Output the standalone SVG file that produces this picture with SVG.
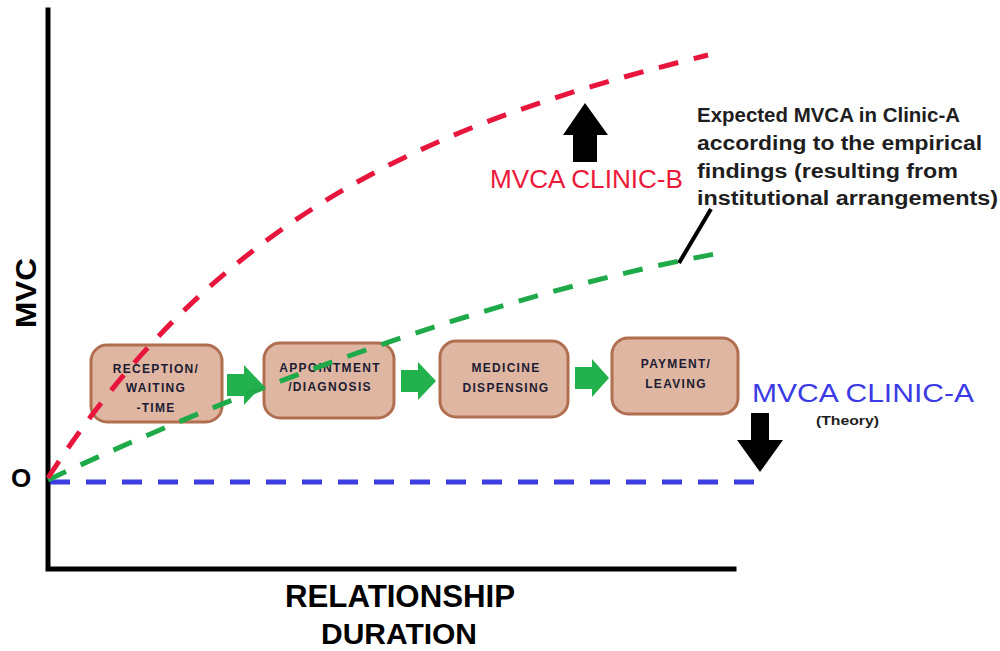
<svg xmlns="http://www.w3.org/2000/svg" width="1000" height="651" viewBox="0 0 1000 651">
  <defs>
    <style>
      .axis { stroke: #000; stroke-width: 5; fill: none; stroke-linecap: square; }
      .step rect { fill: #dfb6a1; stroke: #b06f50; stroke-width: 3; }
      .step text { font-family: "Liberation Sans", Arial, sans-serif; font-weight: bold; font-size: 12px; fill: #1c1c34; text-anchor: middle; letter-spacing: 1.3px; }
      .flow { fill: #22b14c; }
      .curve { fill: none; stroke-width: 5; }
      .lbl { font-family: "Liberation Sans", Arial, sans-serif; font-weight: bold; fill: #000; }
      .note { font-family: "Liberation Sans", Arial, sans-serif; font-weight: bold; font-size: 20px; fill: #1e1e1e; }
    </style>
  </defs>
  <rect width="1000" height="651" fill="#fff"/>

  <!-- axes -->
  <g id="axes">
    <polyline class="axis" points="48,10 48,569 734,569"/>
    <text class="lbl" x="400" y="607" font-size="32" text-anchor="middle" textLength="230" lengthAdjust="spacingAndGlyphs">RELATIONSHIP</text>
    <text class="lbl" x="399" y="644" font-size="29" text-anchor="middle" textLength="156" lengthAdjust="spacingAndGlyphs">DURATION</text>
    <text class="lbl" transform="translate(36,293) rotate(-90)" font-size="30" text-anchor="middle" textLength="70" lengthAdjust="spacingAndGlyphs">MVC</text>
    <text class="lbl" x="21" y="487" font-size="26" text-anchor="middle">O</text>
  </g>

  <!-- process steps -->
  <g id="step-reception" class="step">
    <rect x="91" y="345" width="131" height="77" rx="16"/>
    <text x="156" y="373">RECEPTION/</text>
    <text x="156" y="392">WAITING</text>
    <text x="156" y="412">-TIME</text>
  </g>
  <g id="step-appointment" class="step">
    <rect x="264" y="343" width="130" height="75" rx="16"/>
    <text x="330" y="372">APPOINTMENT</text>
    <text x="330" y="391">/DIAGNOSIS</text>
  </g>
  <g id="step-medicine" class="step">
    <rect x="440" y="341" width="128" height="76" rx="16"/>
    <text x="506" y="372">MEDICINE</text>
    <text x="506" y="392">DISPENSING</text>
  </g>
  <g id="step-payment" class="step">
    <rect x="612" y="338" width="126" height="76" rx="16"/>
    <text x="676" y="368">PAYMENT/</text>
    <text x="676" y="388">LEAVING</text>
  </g>

  <!-- connectors: step flow arrows and value curves -->
  <g id="connectors">
    <polygon class="flow" points="227,374 244,374 244,365 263,385 244,405 244,396 227,396"/>
    <polygon class="flow" points="401,370 418,370 418,362 436,381 418,400 418,392 401,392"/>
    <polygon class="flow" points="575,367 592,367 592,359 609,378 592,397 592,389 575,389"/>

    <path id="curve-a-theory" class="curve" stroke="#3c3ce0" stroke-dasharray="20 16" d="M50,482 L756,482"/>
    <path id="curve-a-expected" class="curve" stroke="#1faa4a" stroke-dasharray="20 16" d="M48,480 C248,386 495,295 715,254"/>
    <path id="curve-b" class="curve" stroke="#e8163c" stroke-dasharray="20 16" d="M48,478 C228,199 458,117 708,55"/>

    <line id="leader" x1="711" y1="209" x2="679" y2="263" stroke="#000" stroke-width="4"/>
  </g>

  <!-- clinic B label -->
  <g id="label-clinic-b">
    <polygon fill="#000" points="573,162 573,135 563,135 585,103 608,135 597,135 597,162"/>
    <text x="490" y="188" font-family="Liberation Sans, Arial, sans-serif" font-size="25" fill="#ec1a3a" textLength="193" lengthAdjust="spacingAndGlyphs">MVCA CLINIC-B</text>
  </g>

  <!-- clinic A label -->
  <g id="label-clinic-a">
    <polygon fill="#000" points="751,413 769,413 769,440 783,440 760,472 737,440 751,440"/>
    <text x="752" y="402" font-family="Liberation Sans, Arial, sans-serif" font-size="25" fill="#3b3be6" textLength="222" lengthAdjust="spacingAndGlyphs">MVCA CLINIC-A</text>
    <text x="816" y="425" font-family="Liberation Sans, Arial, sans-serif" font-weight="bold" font-size="12" fill="#1e1e1e" textLength="63" lengthAdjust="spacingAndGlyphs">(Theory)</text>
  </g>

  <!-- expected outcome note -->
  <g id="note-expected">
    <text class="note" x="697" y="122" textLength="263" lengthAdjust="spacingAndGlyphs">Expected MVCA in Clinic-A</text>
    <text class="note" x="697" y="150" textLength="285" lengthAdjust="spacingAndGlyphs">according to the empirical</text>
    <text class="note" x="697" y="178" textLength="261" lengthAdjust="spacingAndGlyphs">findings (resulting from</text>
    <text class="note" x="697" y="205" textLength="301" lengthAdjust="spacingAndGlyphs">institutional arrangements)</text>
  </g>
</svg>
